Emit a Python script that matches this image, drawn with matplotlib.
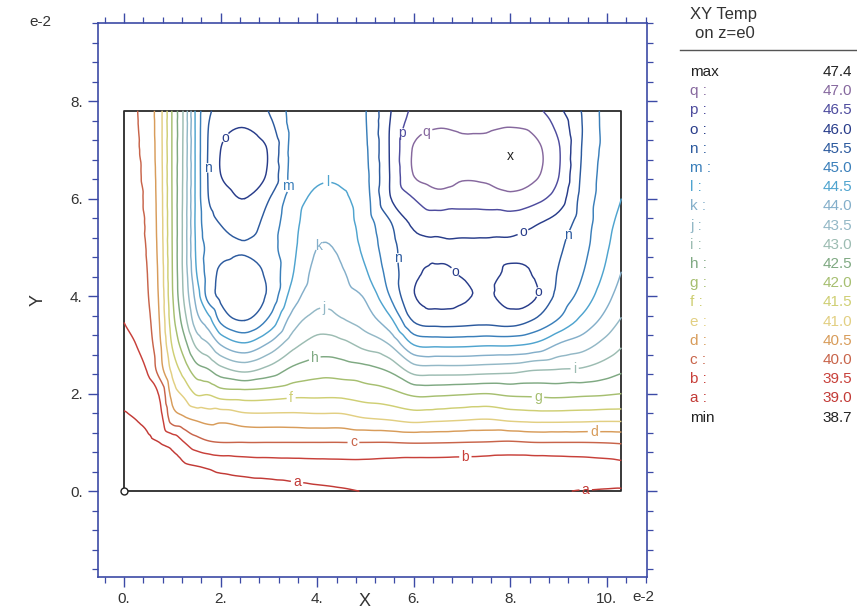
import matplotlib
matplotlib.use('Agg')
import matplotlib.pyplot as plt
import matplotlib.tri as mtri
from matplotlib.ticker import MultipleLocator
from matplotlib.lines import Line2D
import numpy as np

plt.rcParams['font.family'] = ['Liberation Sans', 'DejaVu Sans']

x_pos = [0.0, 0.25, 0.5, 0.75, 1.0, 1.25, 1.5, 1.75, 2.0, 2.5, 3.0, 3.5, 4.0, 4.5,
         5.0, 5.5, 6.0, 6.5, 7.0, 7.5, 8.0, 8.5, 9.0, 9.5, 10.0, 10.3]
y_pos = [0.0, 0.5, 1.0, 1.5, 2.0, 2.5, 3.0, 3.5, 4.0, 4.5, 5.0, 5.5, 6.0, 6.5, 7.0, 7.5, 7.8]

# temperature, one list per x position, going from y=0 up to y=7.8
temp_cols = [
    [38.70, 38.76, 38.84, 38.96, 39.10, 39.24, 39.38, 39.51, 39.58, 39.62, 39.65, 39.67, 39.69, 39.71, 39.73, 39.74, 39.75],
    [38.70, 38.80, 38.90, 39.01, 39.16, 39.33, 39.50, 39.66, 39.76, 39.82, 39.86, 39.88, 39.90, 39.92, 39.94, 39.96, 39.97],
    [38.71, 38.83, 38.95, 39.08, 39.30, 39.57, 39.78, 39.90, 39.99, 40.03, 40.07, 40.10, 40.13, 40.17, 40.20, 40.23, 40.25],
    [38.72, 38.86, 39.01, 39.35, 39.60, 40.30, 40.45, 40.57, 40.65, 40.70, 40.75, 40.78, 40.80, 40.82, 40.84, 40.85, 40.85],
    [38.73, 38.90, 39.15, 40.25, 40.70, 41.15, 41.55, 41.80, 41.95, 42.00, 42.02, 42.03, 42.04, 42.05, 42.05, 42.05, 42.05],
    [38.74, 38.93, 39.50, 40.45, 41.12, 41.75, 42.30, 42.80, 43.10, 43.20, 43.22, 43.22, 43.20, 43.18, 43.17, 43.15, 43.15],
    [38.75, 38.98, 39.80, 40.60, 41.55, 42.30, 43.10, 43.80, 44.20, 44.50, 44.60, 44.65, 44.65, 44.65, 44.65, 44.65, 44.65],
    [38.76, 39.05, 39.95, 40.70, 41.55, 42.50, 43.45, 44.30, 45.20, 45.20, 45.12, 45.30, 45.50, 45.55, 45.55, 45.50, 45.40],
    [38.77, 39.13, 40.00, 40.65, 41.75, 42.85, 44.00, 45.10, 45.60, 45.58, 45.32, 45.52, 45.75, 46.00, 46.00, 45.80, 45.65],
    [38.78, 39.20, 40.00, 40.80, 41.80, 43.15, 44.40, 45.50, 45.73, 45.66, 45.46, 45.72, 46.00, 46.25, 46.25, 45.97, 45.80],
    [38.80, 39.24, 40.00, 40.82, 41.75, 42.85, 43.90, 44.90, 45.40, 45.38, 45.20, 45.30, 45.52, 45.92, 45.95, 45.65, 45.48],
    [38.85, 39.27, 40.00, 40.82, 41.65, 42.40, 43.15, 43.75, 44.25, 44.52, 44.60, 44.65, 44.75, 44.80, 44.82, 44.85, 44.85],
    [38.90, 39.30, 40.00, 40.85, 41.63, 42.22, 42.78, 43.30, 43.68, 43.85, 44.00, 44.20, 44.40, 44.58, 44.70, 44.76, 44.78],
    [38.95, 39.32, 40.00, 40.85, 41.63, 42.25, 42.85, 43.45, 43.78, 43.95, 44.10, 44.28, 44.42, 44.60, 44.72, 44.78, 44.80],
    [39.01, 39.33, 40.00, 41.00, 41.75, 42.35, 43.15, 43.75, 44.07, 44.45, 44.65, 44.75, 44.82, 44.88, 44.93, 44.97, 44.98],
    [39.03, 39.30, 40.00, 41.08, 41.85, 42.60, 43.50, 44.35, 45.00, 45.20, 45.30, 45.45, 45.95, 46.00, 46.02, 46.00, 45.95],
    [39.04, 39.27, 40.03, 41.20, 42.10, 43.25, 44.50, 45.55, 45.97, 45.90, 45.85, 46.10, 46.50, 47.02, 47.05, 46.75, 46.60],
    [39.05, 39.27, 40.02, 41.15, 42.10, 43.30, 44.60, 45.72, 46.15, 46.05, 45.92, 46.20, 46.80, 47.25, 47.30, 46.95, 46.70],
    [39.05, 39.25, 40.00, 41.10, 42.05, 43.30, 44.60, 45.70, 46.06, 45.97, 45.90, 46.25, 46.70, 47.08, 47.15, 46.90, 46.75],
    [39.05, 39.22, 39.98, 41.05, 42.00, 43.25, 44.55, 45.65, 45.94, 45.88, 45.90, 46.25, 46.72, 47.12, 47.18, 46.90, 46.75],
    [39.05, 39.20, 39.95, 41.15, 42.10, 43.20, 44.55, 45.72, 46.15, 46.05, 45.93, 46.20, 46.85, 47.30, 47.38, 46.97, 46.80],
    [39.04, 39.20, 40.00, 41.20, 42.12, 43.05, 44.40, 45.45, 46.05, 45.96, 45.85, 46.05, 46.65, 47.10, 47.15, 46.85, 46.65],
    [39.02, 39.22, 40.00, 41.20, 42.15, 43.00, 43.95, 44.95, 45.35, 45.47, 45.58, 45.80, 46.25, 46.52, 46.55, 46.35, 46.12],
    [38.99, 39.25, 40.00, 41.18, 42.10, 42.95, 43.70, 44.35, 44.80, 45.02, 45.15, 45.25, 45.32, 45.40, 45.45, 45.48, 45.45],
    [38.97, 39.30, 40.02, 41.15, 42.05, 42.75, 43.30, 43.80, 44.15, 44.40, 44.55, 44.65, 44.75, 44.80, 44.85, 44.85, 44.85],
    [38.96, 39.35, 40.05, 41.15, 42.00, 42.60, 43.05, 43.45, 43.75, 44.00, 44.20, 44.35, 44.50, 44.62, 44.70, 44.75, 44.78],
]

# contour levels a..q
level_names = ['a', 'b', 'c', 'd', 'e', 'f', 'g', 'h', 'i', 'j', 'k', 'l', 'm', 'n', 'o', 'p', 'q']
level_values = [39.0, 39.5, 40.0, 40.5, 41.0, 41.5, 42.0, 42.5, 43.0, 43.5, 44.0,
                44.5, 45.0, 45.5, 46.0, 46.5, 47.0]
level_colors = ['#c23a36', '#c8403a', '#c8644a', '#d89c5a', '#e2cf82', '#cfcf74', '#a6bf70',
                '#7fa982', '#9cbcb2', '#93b8c6', '#84afca', '#4fa4cf', '#3a7fba', '#2c5a9e',
                '#283c8a', '#4e4c9e', '#86689e']

# where the letters sit on the lines
label_spots = [(2.07, 7.26), (1.82, 6.63), (3.44, 6.26), (4.2, 6.42), (3.9, 5.09),
               (4.13, 3.71), (3.92, 2.79), (3.46, 1.91), (4.75, 1.0), (3.59, 0.23),
               (7.07, 0.68), (9.73, 1.19), (8.57, 1.91), (9.32, 2.65), (5.87, 4.78),
               (6.83, 4.49), (8.63, 4.08), (8.28, 5.29), (9.32, 5.23), (5.79, 7.34),
               (6.29, 7.34), (9.56, 0.03)]

xticks = [0, 2, 4, 6, 8, 10]
yticks = [0, 2, 4, 6, 8]
axis_blue = '#3c4aa6'

fig = plt.figure(figsize=(8.57, 6.10), dpi=100)
ax = fig.add_axes([98 / 857, 33 / 610, 549 / 857, 554 / 610])

# smooth the read-off grid with matplotlib's cubic tri refiner
X, Y = np.meshgrid(x_pos, y_pos)
T = np.array(temp_cols).T
tri = mtri.Triangulation(X.ravel(), Y.ravel())
interp = mtri.CubicTriInterpolator(tri, T.ravel(), kind='geom')
tri_f, t_f = mtri.UniformTriRefiner(tri).refine_field(T.ravel(), triinterpolator=interp, subdiv=3)

cs = ax.tricontour(tri_f, t_f, levels=level_values, colors=level_colors, linewidths=1.05)
labels = ax.clabel(cs, fmt=dict(zip(level_values, level_names)), manual=label_spots,
                   inline=True, inline_spacing=3, fontsize=10)
for t in labels:
    t.set_rotation(0)  # letters stand upright in the original

# domain outline, origin and location of the maximum
x0, x1, y0, y1 = x_pos[0], x_pos[-1], y_pos[0], y_pos[-1]
ax.plot([x0, x1, x1, x0, x0], [y0, y0, y1, y1, y0], color='#2a2a2a', lw=1.3, zorder=1)
ax.plot(x0, y0, 'o', mfc='white', mec='#222222', ms=5, mew=1.0, zorder=3)
imax = np.argmax(t_f)
ax.text(tri_f.x[imax], tri_f.y[imax], 'x', ha='center', va='center', fontsize=10, color='#222222')

ax.set_xlim(-0.54, 10.83)
ax.set_ylim(-1.76, 9.6)
ax.set_xticks(xticks, labels=[f'{t}.' for t in xticks])
ax.set_yticks(yticks, labels=[f'{t}.' for t in yticks])
ax.xaxis.set_minor_locator(MultipleLocator(0.4))
ax.yaxis.set_minor_locator(MultipleLocator(0.4))
ax.tick_params(which='both', direction='out', top=True, right=True, color=axis_blue,
               labelcolor='#333333', labelsize=11)
ax.tick_params(which='major', length=7, width=1.0, pad=4)
ax.tick_params(which='minor', length=4, width=0.9)
for sp in ax.spines.values():
    sp.set_color(axis_blue)
    sp.set_linewidth(1.2)

ax.text(0.486, -0.045, 'X', transform=ax.transAxes, ha='center', va='center', fontsize=13, color='#333333')
ax.text(-0.109, 0.5, 'Y', transform=ax.transAxes, ha='center', va='center', fontsize=13,
        rotation=90, color='#333333')
fig.text(40 / 857, 1 - 22 / 610, 'e-2', ha='center', va='center', fontsize=11, color='#333333')
fig.text(643 / 857, 1 - 597 / 610, 'e-2', ha='center', va='center', fontsize=11, color='#333333')

# legend column on the right
fig.text(690 / 857, 1 - 15 / 610, 'XY Temp', ha='left', va='center', fontsize=12, color='#333333')
fig.text(695 / 857, 1 - 34 / 610, 'on z=e0', ha='left', va='center', fontsize=12, color='#333333')
fig.add_artist(Line2D([680 / 857, 1.0], [1 - 50 / 610, 1 - 50 / 610], color='#555555', lw=1.0))

rows = [('max', f'{T.max():.1f}', '#222222')]
for name, val, col in reversed(list(zip(level_names, level_values, level_colors))):
    rows.append((f'{name} :', f'{val:.1f}', col))
rows.append(('min', f'{T.min():.1f}', '#222222'))
for i, (name, val, col) in enumerate(rows):
    yy = 1 - (72 + 19.2 * i) / 610
    fig.text(690 / 857, yy, name, ha='left', va='center', fontsize=11, color=col)
    fig.text(852 / 857, yy, val, ha='right', va='center', fontsize=11, color=col)

fig.savefig('out.png', dpi=100)
